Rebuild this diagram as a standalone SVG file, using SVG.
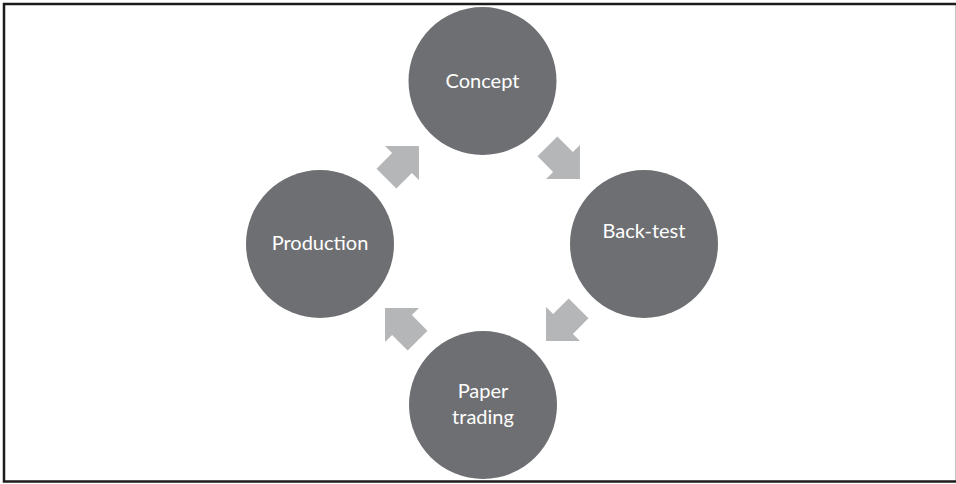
<svg xmlns="http://www.w3.org/2000/svg" width="956" height="484" viewBox="0 0 956 484">
  <defs>
    <style>
      .node circle { fill: #6e6f72; }
      .node text { fill: #ffffff; font-family: Lato, "Open Sans", "Liberation Sans", sans-serif; font-size: 20px; text-anchor: middle; }
      .arrow { fill: #b5b6b8; }
    </style>
    <path id="blk" d="M-22,-14 H0 V-24 L24,0 L0,24 V14 H-22 Z"/>
  </defs>
  <rect x="0" y="0" width="956" height="484" fill="#ffffff"/>
  <rect x="4" y="4" width="953" height="477.5" fill="none" stroke="#1c1c1c" stroke-width="2.5"/>

  <g id="connectors">
    <use href="#blk" class="arrow" transform="translate(563,162) rotate(45)"/>
    <use href="#blk" class="arrow" transform="translate(563,324) rotate(135)"/>
    <use href="#blk" class="arrow" transform="translate(402,325) rotate(-135)"/>
    <use href="#blk" class="arrow" transform="translate(402,163) rotate(-45)"/>
  </g>

  <g id="concept" class="node">
    <circle cx="482.5" cy="81" r="74"/>
    <text x="482.5" y="88">Concept</text>
  </g>
  <g id="backtest" class="node">
    <circle cx="644" cy="244" r="74"/>
    <text x="644" y="238">Back-test</text>
  </g>
  <g id="papertrading" class="node">
    <circle cx="483" cy="405" r="74"/>
    <text x="483" y="398">Paper</text>
    <text x="483" y="424">trading</text>
  </g>
  <g id="production" class="node">
    <circle cx="320" cy="244" r="74"/>
    <text x="320" y="250">Production</text>
  </g>
</svg>
